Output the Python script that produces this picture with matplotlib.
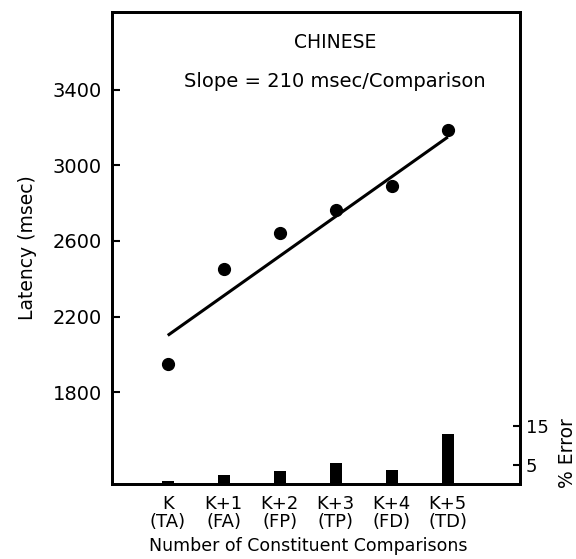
import matplotlib
matplotlib.use('Agg')
import matplotlib.pyplot as plt
import numpy as np

# data
conditions = ['K\n(TA)', 'K+1\n(FA)', 'K+2\n(FP)', 'K+3\n(TP)', 'K+4\n(FD)', 'K+5\n(TD)']
latency = [1948, 2454, 2640, 2762, 2889, 3185]
fit_intercept = 2100
fit_slope = 210
pct_error = [0.8, 2.4, 3.3, 5.3, 3.7, 12.9]
latency_ticks = [1800, 2200, 2600, 3000, 3400]
error_ticks = [5, 15]

plt.rcParams['font.family'] = ['DejaVu Sans']

fig = plt.figure(figsize=(5.76, 5.59), dpi=100)
ax = fig.add_axes([0.194, 0.134, 0.709, 0.845])

x = np.arange(len(conditions))
fit = fit_intercept + fit_slope * x

ax.plot(x[[0, -1]], fit[[0, -1]], color='black', lw=2.2, solid_capstyle='butt')
ax.plot(x, latency, 'o', color='black', ms=8.5)

ax.set_xlim(-1.0, 6.29)
ax.set_ylim(1313, 3813)
ax.set_yticks(latency_ticks)
ax.set_xticks(x)
ax.set_xticklabels(conditions, fontsize=13, linespacing=0.95)
ax.tick_params(axis='x', length=0, pad=8)
ax.tick_params(axis='y', direction='in', length=6, width=1.5, labelsize=14, pad=7)
for s in ax.spines.values():
    s.set_linewidth(2)

ax.set_ylabel('Latency (msec)', fontsize=13.5)
ax.yaxis.set_label_coords(-0.183, 0.5)
ax.set_xlabel('Number of Constituent Comparisons', fontsize=12.5)
ax.xaxis.set_label_coords((2.5 + 1.0) / 7.29, -0.112)

ax2 = ax.twinx()
ax2.bar(x, pct_error, width=0.21, color='black')
ax2.set_ylim(0, 121)
ax2.set_yticks(error_ticks)
ax2.tick_params(axis='y', direction='in', length=5, width=1.5, labelsize=13, pad=4)
for s in ax2.spines.values():
    s.set_linewidth(2)
fig.text(0.985, 0.19, '% Error', rotation=90, fontsize=13.5, ha='center', va='center')

ax.text(2.98, 3649, 'CHINESE', fontsize=13.5, ha='center', va='center')
ax.text(2.98, 3445, 'Slope = 210 msec/Comparison', fontsize=14, ha='center', va='center')

fig.savefig('out.png', dpi=100)
